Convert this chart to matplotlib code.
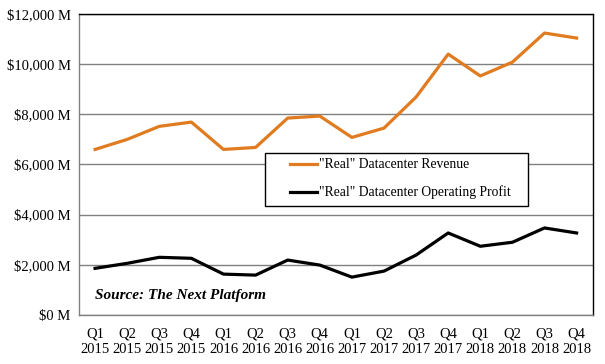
import matplotlib
matplotlib.use('Agg')
import matplotlib.pyplot as plt
from matplotlib.patches import Rectangle
from matplotlib.ticker import FuncFormatter

# Datos (millones de dolares)
trimestres = ['Q1\n2015', 'Q2\n2015', 'Q3\n2015', 'Q4\n2015',
              'Q1\n2016', 'Q2\n2016', 'Q3\n2016', 'Q4\n2016',
              'Q1\n2017', 'Q2\n2017', 'Q3\n2017', 'Q4\n2017',
              'Q1\n2018', 'Q2\n2018', 'Q3\n2018', 'Q4\n2018']
ingresos = [6600, 7000, 7520, 7690, 6600, 6680, 7850, 7930,
            7080, 7450, 8690, 10400, 9530, 10080, 11240, 11040]
ganancia = [1860, 2060, 2300, 2260, 1630, 1590, 2190, 1990,
            1510, 1750, 2390, 3270, 2740, 2900, 3470, 3270]

plt.rcParams['font.family'] = ['Liberation Serif', 'DejaVu Serif']

fig = plt.figure(figsize=(6.05, 3.64), dpi=100)
ax = fig.add_axes([0.1306, 0.1346, 0.849, 0.827])

x = range(len(trimestres))
ax.plot(x, ingresos, color='#E07B20', lw=2.3, label='"Real" Datacenter Revenue')
ax.plot(x, ganancia, color='black', lw=2.3, label='"Real" Datacenter Operating Profit')

ax.set_xlim(-0.5, len(trimestres) - 0.5)
ax.set_ylim(0, 12000)
ax.set_yticks(range(0, 12001, 2000))
ax.yaxis.set_major_formatter(FuncFormatter(lambda v, p: '${:,.0f} M'.format(v)))
ax.set_xticks(list(x))
ax.set_xticklabels(trimestres)
ax.tick_params(axis='both', length=0, labelsize=10.5, pad=9)
ax.tick_params(axis='y', pad=6)
ax.grid(axis='y', color='#808080', lw=1)
ax.set_axisbelow(True)

ax.spines['top'].set_color('black')
ax.spines['right'].set_color('black')
ax.spines['left'].set_color('#808080')
ax.spines['bottom'].set_color('#808080')
for s in ax.spines.values():
    s.set_linewidth(1)

ax.text(0, 650, 'Source: The Next Platform', fontsize=11, fontweight='bold',
        fontstyle='italic')

# recuadro de la leyenda (con mas margen que el de matplotlib)
caja = Rectangle((0.362, 0.362), 0.513, 0.176, transform=ax.transAxes,
                 facecolor='white', edgecolor='black', lw=1, zorder=4)
ax.add_patch(caja)
leg = ax.legend(loc='center left', bbox_to_anchor=(0.41, 0.452), fontsize=9.8,
                frameon=False, handlelength=2.0, handletextpad=0.15,
                borderpad=0, labelspacing=1.05, borderaxespad=0)
leg.set_zorder(5)

plt.savefig('out.png', dpi=100)
